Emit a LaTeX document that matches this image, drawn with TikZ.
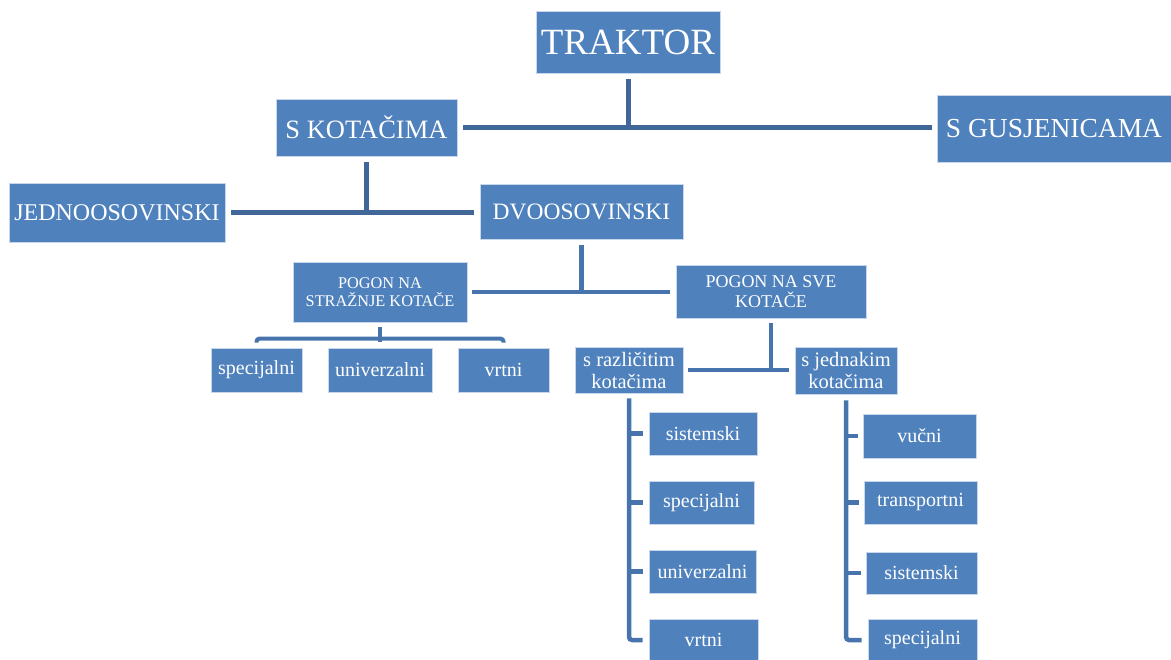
\documentclass[tikz,border=0pt]{standalone}
\usepackage{fontspec}
\setmainfont{Liberation Serif}
\usetikzlibrary{calc}
\definecolor{boxblue}{RGB}{79,129,189}
\definecolor{boxedge}{RGB}{200,215,235}
\definecolor{linetop}{RGB}{64,103,152}
\definecolor{linelow}{RGB}{72,116,174}
\tikzset{
  box/.style={rectangle, fill=boxblue, draw=boxedge, line width=0.8pt, text=white, inner sep=0pt, align=center},
  conn/.style={draw=linetop, line width=5pt},
  connlow/.style={draw=linelow, line width=4.5pt, rounded corners=3pt},
}
\begin{document}
\begin{tikzpicture}[x=1pt,y=-1pt]
\useasboundingbox (0,0) rectangle (1171,660);
% level 0-1
\node[box, minimum width=184pt, minimum height=62pt, font=\fontsize{37}{40}\selectfont] (trak) at (628,42) {TRAKTOR};
\node[box, minimum width=181pt, minimum height=57pt, font=\fontsize{26.5}{30}\selectfont] (skot) at (366.5,127.5) {S KOTAČIMA};
\node[box, minimum width=234pt, minimum height=67pt, font=\fontsize{27.5}{30}\selectfont] (sgus) at (1054,128.5) {S GUSJENICAMA};
% level 2
\node[box, minimum width=216pt, minimum height=59pt, font=\fontsize{24}{27}\selectfont] (jedn) at (117,212.5) {JEDNOOSOVINSKI};
\node[box, minimum width=203pt, minimum height=55pt, font=\fontsize{23.5}{27}\selectfont] (dvo) at (581.5,211.5) {DVOOSOVINSKI};
% level 3
\node[box, minimum width=174pt, minimum height=60pt, font=\fontsize{16.3}{18}\selectfont] (pstr) at (380,292) {POGON NA\\STRAŽNJE KOTAČE};
\node[box, minimum width=190pt, minimum height=53pt, font=\fontsize{18}{20}\selectfont] (psve) at (771,291.5) {POGON NA SVE\\KOTAČE};
% level 4 left
\node[box, minimum width=91pt, minimum height=44pt, font=\fontsize{20}{22}\selectfont] (spec1) at (256.5,370) {specijalni};
\node[box, minimum width=104pt, minimum height=44pt, font=\fontsize{20}{22}\selectfont] (univ1) at (380,370) {univerzalni};
\node[box, minimum width=91pt, minimum height=44pt, font=\fontsize{20}{22}\selectfont] (vrt1) at (503.5,370) {vrtni};
% level 4 right
\node[box, minimum width=108pt, minimum height=46pt, font=\fontsize{20.5}{22}\selectfont] (sraz) at (629,370) {s različitim\\kotačima};
\node[box, minimum width=102pt, minimum height=47pt, font=\fontsize{20.5}{22}\selectfont] (sjed) at (846,370.5) {s jednakim\\kotačima};
% column under s različitim
\node[box, minimum width=108pt, minimum height=43pt, font=\fontsize{20}{22}\selectfont] (sist1) at (703,433.5) {sistemski};
\node[box, minimum width=105pt, minimum height=43pt, font=\fontsize{20}{22}\selectfont] (spec2) at (701.5,502.5) {specijalni};
\node[box, minimum width=107pt, minimum height=43pt, font=\fontsize{20}{22}\selectfont] (univ2) at (702.5,571.5) {univerzalni};
\node[box, minimum width=109pt, minimum height=42pt, font=\fontsize{20}{22}\selectfont] (vrt2) at (703.5,640) {vrtni};
% column under s jednakim
\node[box, minimum width=113pt, minimum height=44pt, font=\fontsize{20}{22}\selectfont] (vuc) at (919.5,436) {vučni};
\node[box, minimum width=113pt, minimum height=43pt, font=\fontsize{20}{22}\selectfont] (trans) at (920.5,502.5) {transportni};
\node[box, minimum width=111pt, minimum height=42pt, font=\fontsize{20}{22}\selectfont] (sist2) at (921.5,573) {sistemski};
\node[box, minimum width=109pt, minimum height=42pt, font=\fontsize{20}{22}\selectfont] (spec3) at (922.5,640) {specijalni};

% connectors
\draw[conn] ($(trak.south)+(0,6)$) -- (trak.south |- skot.east);
\draw[conn] ($(skot.east)+(6,0)$) -- ($(skot.east -| sgus.west)+(-5,0)$);

\draw[conn] ($(skot.south)+(0,6)$) -- (skot.south |- jedn.east);
\draw[conn] ($(jedn.east)+(6,0)$) -- ($(jedn.east -| dvo.west)+(-6,0)$);

\draw[connlow] ($(dvo.south)+(0,6)$) -- (dvo.south |- pstr.east);
\draw[connlow] ($(pstr.east)+(5,0)$) -- ($(pstr.east -| psve.west)+(-6,0)$);

\draw[connlow] ($(pstr.south)+(0,5)$) -- ($(pstr.south)+(0,20)$);
\draw[connlow, line width=4pt] ($(spec1.north)+(0,-5)$) -- ($(spec1.north)+(0,-9)$) -- ($(vrt1.north)+(0,-9)$) -- ($(vrt1.north)+(0,-5)$);

\draw[connlow] ($(psve.south)+(0,5)$) -- (psve.south |- sraz.east);
\draw[connlow] ($(sraz.east)+(5,0)$) -- ($(sraz.east -| sjed.west)+(-6,0)$);

\draw[connlow] ($(sraz.south)+(0,5)$) |- ($(vrt2.west)+(-6,0)$);
\draw[connlow] (sraz.south |- sist1.west) -- ($(sist1.west)+(-6,0)$);
\draw[connlow] (sraz.south |- spec2.west) -- ($(spec2.west)+(-6,0)$);
\draw[connlow] (sraz.south |- univ2.west) -- ($(univ2.west)+(-6,0)$);

\draw[connlow] ($(sjed.south)+(0,6)$) |- ($(spec3.west)+(-6,0)$);
\draw[connlow] (sjed.south |- vuc.west) -- ($(vuc.west)+(-5,0)$);
\draw[connlow] (sjed.south |- trans.west) -- ($(trans.west)+(-5,0)$);
\draw[connlow] (sjed.south |- sist2.west) -- ($(sist2.west)+(-5,0)$);
\end{tikzpicture}
\end{document}
